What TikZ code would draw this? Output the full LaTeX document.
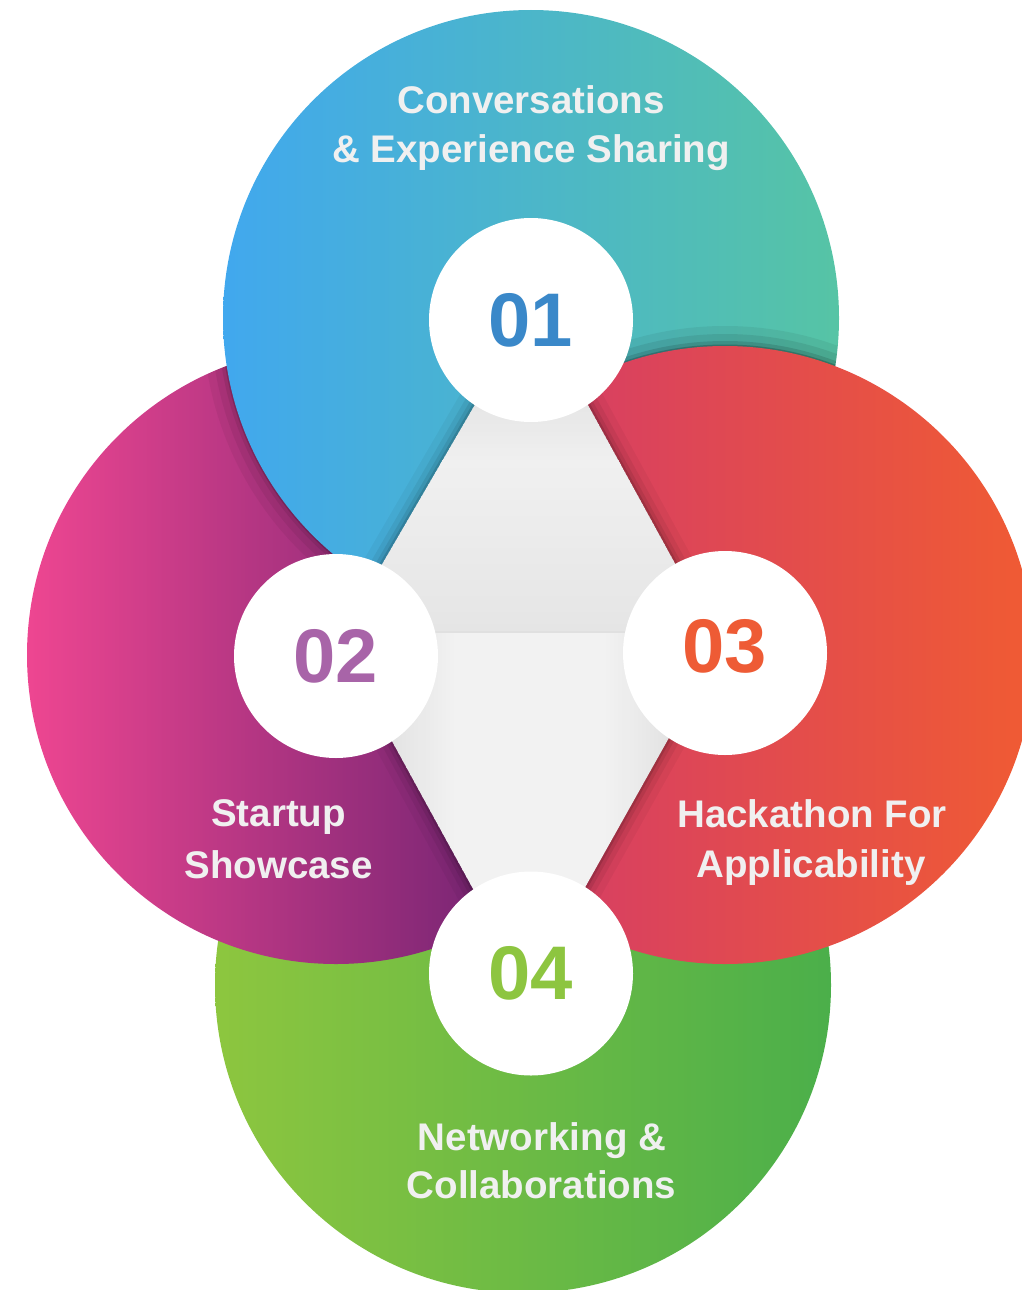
\documentclass[tikz,border=0pt]{standalone}
\usepackage{fontspec}
\setmainfont{Liberation Sans}
\definecolor{blueL}{HTML}{41A8EE}
\definecolor{blueM}{HTML}{47B2CF}
\definecolor{blueR}{HTML}{56C4A5}
\definecolor{pinkL}{HTML}{EE4691}
\definecolor{pinkM}{HTML}{A83388}
\definecolor{pinkR}{HTML}{501A6A}
\definecolor{redL}{HTML}{CF3672}
\definecolor{redM}{HTML}{E94361}
\definecolor{redR}{HTML}{F05B33}
\definecolor{greenL}{HTML}{8DC63F}
\definecolor{greenM}{HTML}{6CBA44}
\definecolor{greenR}{HTML}{4BAF4A}
\definecolor{txt}{HTML}{F0F0F0}
\definecolor{c01}{HTML}{3A88C9}
\definecolor{c02}{HTML}{A864A8}
\definecolor{c03}{HTML}{EE5B35}
\definecolor{c04}{HTML}{8DC540}
\definecolor{gA}{HTML}{D5D5D5}
\definecolor{gB}{HTML}{F0F0F0}
\definecolor{gC}{HTML}{E5E5E5}
\definecolor{gD}{HTML}{D9D9D9}
\definecolor{gE}{HTML}{F2F2F2}
\begin{document}
\begin{tikzpicture}[x=1pt,y=-1pt,
  lbl/.style={text=txt, font=\fontsize{38.5}{46}\selectfont\bfseries, anchor=base, inner sep=0pt},
  num/.style={font=\fontsize{76}{80}\selectfont\bfseries, inner sep=0pt, anchor=center},
  disc/.style={circle, fill=white, minimum size=204pt, inner sep=0pt},
  shadowline/.style={draw=black, line width=#1}]
\useasboundingbox (0,0) rectangle (1022,1290);
\coordinate (cT) at (531,318);
\coordinate (cL) at (336,655);
\coordinate (cR) at (725,655);
\coordinate (cB) at (523,985);

% green (bottom)
\shade[left color=greenL, middle color=greenM, right color=greenR] (cB) circle[radius=308pt];
% pink (left)
\shade[left color=pinkL, middle color=pinkM, right color=pinkR] (cL) circle[radius=309pt];
% shadow of top circle on pink
\begin{scope}
  \clip (cL) circle[radius=309pt];
  \draw[shadowline=40pt, opacity=0.05] (cT) circle[radius=308pt];
  \draw[shadowline=24pt, opacity=0.06] (cT) circle[radius=308pt];
  \draw[shadowline=10pt, opacity=0.08] (cT) circle[radius=308pt];
  \draw[shadowline=3pt, opacity=0.15] (cT) circle[radius=308pt];
\end{scope}
% top (blue-teal)
\shade[left color=blueL, middle color=blueM, right color=blueR] (cT) circle[radius=308pt];
% shadow of right circle on top
\begin{scope}
  \clip (cT) circle[radius=308pt];
  \draw[shadowline=40pt, opacity=0.06] (cR) circle[radius=309pt];
  \draw[shadowline=24pt, opacity=0.08] (cR) circle[radius=309pt];
  \draw[shadowline=10pt, opacity=0.12] (cR) circle[radius=309pt];
  \draw[shadowline=3pt, opacity=0.2] (cR) circle[radius=309pt];
\end{scope}
% right (red-orange)
\shade[left color=redL, middle color=redM, right color=redR] (cR) circle[radius=309pt];

% centre diamond: shadow
\coordinate (dT) at (533,305);
\coordinate (dL1) at (338,640);
\coordinate (dL2) at (353,670);
\coordinate (dB) at (528,989);
\coordinate (dR2) at (707,670);
\coordinate (dR1) at (717,640);
\foreach \w/\o in {36/0.04,22/0.06,12/0.08,5/0.12}
  \draw[shadowline=\w pt, opacity=\o, line join=round] (dT) -- (dL1) -- (dL2) -- (dB) -- (dR2) -- (dR1) -- cycle;
% diamond fill built from thin stripes
\begin{scope}
  \clip (dT) -- (dL1) -- (dL2) -- (dB) -- (dR2) -- (dR1) -- cycle;
  \fill[gA] (330,300) rectangle (720,306);
  \foreach \i in {0,...,39} {
    \pgfmathsetmacro\yy{304+4*\i}
    \pgfmathtruncatemacro\p{min(100,max(0,(\yy-305)/155*100))}
    \fill[gB!\p!gA] (330,\yy) rectangle (720,\yy+4.6);
  }
  \foreach \i in {0,...,43} {
    \pgfmathsetmacro\yy{460+4*\i}
    \pgfmathtruncatemacro\p{min(100,max(0,(\yy-460)/172*100))}
    \fill[gC!\p!gB] (330,\yy) rectangle (720,{min(632,\yy+4.6)});
  }
  \foreach \i in {0,...,98} {
    \pgfmathsetmacro\xx{330+4*\i}
    \pgfmathtruncatemacro\p{min(100,max(0,min((\xx-345)/110*100,(713-\xx)/110*100)))}
    \fill[gE!\p!gD] (\xx,632) rectangle (\xx+4.6,995);
  }
  \fill[black!12] (330,631) rectangle (720,633);
\end{scope}

% white discs and numbers
\node[disc] (d1) at (531,320) {};
\node[disc] (d2) at (336,656) {};
\node[disc] (d3) at (725,653) {};
\node[disc] (d4) at (531,973.5) {};
\node[num, text=c01] (n1) at (531,320) {01};
\node[num, text=c02] (n2) at (336,656) {02};
\node[num, text=c03] (n3) at (725,646) {03};
\node[num, text=c04] (n4) at (531,973.5) {04};

% labels
\node[lbl] (t1a) at (531,113) {Conversations};
\node[lbl] (t1b) at (531,162) {\& Experience Sharing};
\node[lbl] (t2a) at (278.5,826) {Startup};
\node[lbl] (t2b) at (278.5,878) {Showcase};
\node[lbl] (t3a) at (812,827) {Hackathon For};
\node[lbl] (t3b) at (811,877) {Applicability};
\node[lbl] (t4a) at (542,1150) {Networking \&};
\node[lbl] (t4b) at (541.5,1198) {Collaborations};
\end{tikzpicture}
\end{document}
